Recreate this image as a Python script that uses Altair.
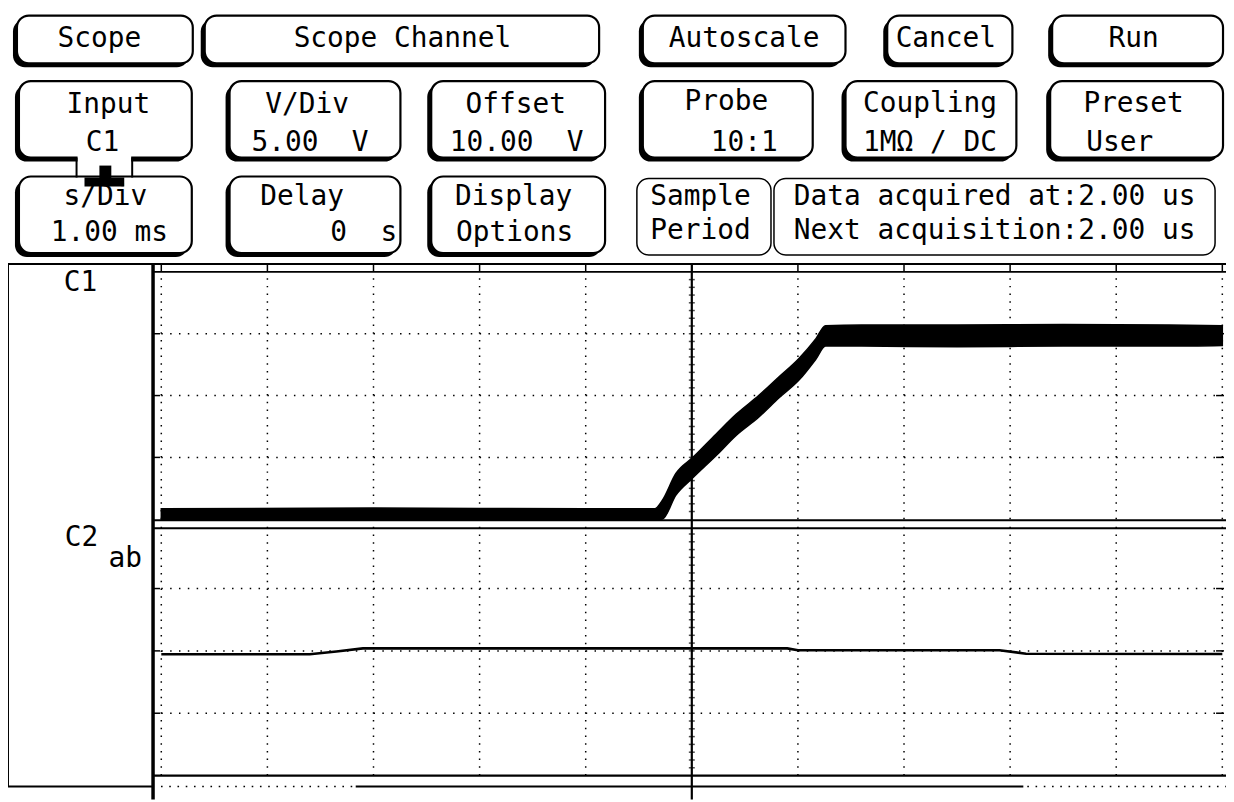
import altair as alt
import pandas as pd

FONT = "DejaVu Sans Mono"
FS = 28
NB = "\u00a0"

# ---------------- signal data ----------------
# C1: noisy band, envelope (time in ms, volts; 5 V/div, 0..20 V on screen)
c1_t  = [-5.0, -3.0, -1.0, -0.35, -0.28, -0.15, 0.01, 0.23, 0.42, 0.63, 0.82, 1.01, 1.17, 1.26, 1.6, 2.5, 3.5, 4.5, 5.0]
c1_hi = [0.85, 0.9, 0.85, 0.85, 1.5, 3.7, 5.0, 6.9, 8.5, 10.0, 11.5, 13.0, 14.6, 15.65, 15.7, 15.7, 15.75, 15.7, 15.65]
c1_lo = [0.0, 0.0, 0.0, 0.0, 0.0, 1.95, 3.35, 5.15, 6.8, 8.25, 9.8, 11.25, 12.95, 14.0, 14.0, 13.95, 14.0, 14.0, 14.05]

# C2: nearly flat trace (time in ms, divisions from centre)
c2_t = [-5.0, -3.6, -3.35, -3.1, 0.9, 1.0, 2.9, 3.15, 5.0]
c2_v = [-0.055, -0.055, -0.01, 0.04, 0.04, 0.01, 0.01, -0.045, -0.05]

time_ticks = [-5, -4, -3, -2, -1, 0, 1, 2, 3, 4, 5]
c1_levels = [5, 10, 15]
c2_levels = [-1, 0, 1]
c1_minor = [i * 0.625 for i in range(1, 32)]
c2_minor = [-2 + i * 0.125 for i in range(1, 32)]

# ---------------- soft-key labels ----------------
btn_l1 = ["Scope", "Scope Channel", "Autoscale", "Cancel", "Run",
          "Input", "V/Div", "Offset", "Probe", "Coupling", "Preset",
          "s/Div", "Delay", "Display", "Sample", "Data acquired at:2.00 us"]
btn_l2 = ["", "", "", "", "",
          "C1", "5.00" + NB * 2 + "V", "10.00" + NB * 2 + "V", "10:1", "1M\u03a9 / DC", "User",
          "1.00 ms", "0" + NB * 2 + "s", "Options", "Period", "Next acquisition:2.00 us"]

# layout of the soft keys (screen pixels)
btn_x0 = [17, 206, 647, 893, 1059, 19, 231, 434, 647, 851, 1057, 19, 231, 434, 641, 779]
btn_x1 = [194, 603, 851, 1019, 1231, 193, 403, 609, 818, 1023, 1231, 193, 403, 609, 776, 1223]
btn_y0 = [13] * 5 + [79] * 6 + [175] * 3 + [177, 177]
btn_y1 = [61] * 5 + [156] * 6 + [252] * 3 + [254, 254]
btn_shadow = [1] * 14 + [0, 0]
t1_x = [100, 405, 749, 952, 1141, 109, 309, 519, 731, 936, 1141, 106, 304, 517, 705, 799]
t1_y = [45] * 5 + [111, 111, 111, 108, 110, 110] + [204, 204, 204, 204, 204]
t2_x = [0] * 5 + [103, 312, 520, 749, 936, 1127, 110, 366, 518, 705, 799]
t2_y = [0] * 5 + [149] * 6 + [240, 240, 240, 238, 238]
t_align = ["center"] * 15 + ["left"]

# ---------------- scales ----------------
X_PX = alt.Scale(domain=[8, 1234], range=[0, 1226], nice=False, zero=False)
Y_PX = alt.Scale(domain=[8, 802], range=[0, 794], nice=False, zero=False)
X_T = alt.Scale(domain=[-5, 5], range=[154.3, 1222.3], nice=False, zero=False)
Y_C1 = alt.Scale(domain=[0, 20], range=[512, 263], nice=False, zero=False)
Y_C2 = alt.Scale(domain=[-2, 2], range=[770, 519], nice=False, zero=False)


def X(f, s):
    return alt.X(f"{f}:Q", scale=s, axis=None)


def Y(f, s):
    return alt.Y(f"{f}:Q", scale=s, axis=None)


layers = []

# ---------------- soft keys ----------------
btn = pd.DataFrame({"x0": btn_x0, "x1": btn_x1, "y0": btn_y0, "y1": btn_y1, "sh": btn_shadow})
layers.append(
    alt.Chart(btn[btn.sh == 1]).mark_rect(color="black", cornerRadius=12, xOffset=-4, x2Offset=-4,
                                         yOffset=4, y2Offset=4)
    .encode(x=X("x0", X_PX), x2="x1:Q", y=Y("y0", Y_PX), y2="y1:Q")
)
layers.append(
    alt.Chart(btn[btn.sh == 1]).mark_rect(fill="white", stroke="black", strokeWidth=2.2, cornerRadius=12)
    .encode(x=X("x0", X_PX), x2="x1:Q", y=Y("y0", Y_PX), y2="y1:Q")
)
layers.append(
    alt.Chart(btn[btn.sh == 0]).mark_rect(fill="white", stroke="black", strokeWidth=1.5, cornerRadius=12)
    .encode(x=X("x0", X_PX), x2="x1:Q", y=Y("y0", Y_PX), y2="y1:Q")
)
# opening between Input and s/Div
layers.append(
    alt.Chart(pd.DataFrame({"x0": [78], "x1": [132], "y0": [153], "y1": [166]}))
    .mark_rect(color="white")
    .encode(x=X("x0", X_PX), x2="x1:Q", y=Y("y0", Y_PX), y2="y1:Q")
)

# ---------------- frame lines (screen pixels) ----------------
frame = pd.DataFrame({
    "x0": [77, 133, 8, 155, 155, 155, 155, 8, 358, 8, 154],
    "x1": [77, 133, 1234, 1234, 1234, 1234, 1234, 155, 1030, 8, 154],
    "y0": [156, 156, 263, 271, 521, 529, 778, 789, 789, 263, 263],
    "y1": [176, 176, 263, 271, 521, 529, 778, 789, 789, 789, 802],
    "w": [2, 2, 2, 2, 2.2, 2, 2.2, 2, 2, 2, 3.5],
})
layers.append(
    alt.Chart(frame).mark_rule(color="black")
    .encode(x=X("x0", X_PX), x2="x1:Q", y=Y("y0", Y_PX), y2="y1:Q",
            strokeWidth=alt.StrokeWidth("w:Q", scale=None))
)
# dotted parts of the bottom bar
layers.append(
    alt.Chart(pd.DataFrame({"x0": [162, 1034], "x1": [355, 1234], "y0": [789, 789]}))
    .mark_rule(color="black", strokeWidth=1.6, strokeDash=[1.6, 6.7])
    .encode(x=X("x0", X_PX), x2="x1:Q", y=Y("y0", Y_PX))
)
# trigger marker
marker = pd.DataFrame({"x0": [100, 85], "x1": [112, 125], "y0": [164, 176], "y1": [178, 185]})
layers.append(
    alt.Chart(marker).mark_rect(color="black")
    .encode(x=X("x0", X_PX), x2="x1:Q", y=Y("y0", Y_PX), y2="y1:Q")
)

# ---------------- texts ----------------
texts = pd.DataFrame({
    "txt": btn_l1 + btn_l2 + ["C1", "C2", "ab"],
    "x": t1_x + t2_x + [81, 82, 126],
    "y": t1_y + t2_y + [290, 547, 568],
    "al": t_align + t_align + ["center"] * 3,
})
texts = texts[texts.txt != ""]
for al in ["center", "left"]:
    layers.append(
        alt.Chart(texts[texts.al == al])
        .mark_text(font=FONT, fontSize=FS, align=al, baseline="alphabetic", color="black")
        .encode(x=X("x", X_PX), y=Y("y", Y_PX), text="txt:N")
    )

# ---------------- graticule ----------------
vgrid = pd.DataFrame({"t": [t for t in time_ticks if t != 0]})
layers.append(
    alt.Chart(vgrid.assign(lo=0, hi=20)).mark_rule(color="black", strokeWidth=1.5, strokeDash=[1.5, 6.28])
    .encode(x=X("t", X_T), y=Y("lo", Y_C1), y2="hi:Q")
)
layers.append(
    alt.Chart(vgrid.assign(lo=-2, hi=2)).mark_rule(color="black", strokeWidth=1.5, strokeDash=[1.5, 6.28])
    .encode(x=X("t", X_T), y=Y("lo", Y_C2), y2="hi:Q")
)
hg1 = pd.DataFrame({"v": c1_levels, "t0": -5, "t1": 5})
hg2 = pd.DataFrame({"v": c2_levels, "t0": -5, "t1": 5})
layers.append(
    alt.Chart(hg1).mark_rule(color="black", strokeWidth=1.5, strokeDash=[1.5, 7.4])
    .encode(x=X("t0", X_T), x2="t1:Q", y=Y("v", Y_C1))
)
layers.append(
    alt.Chart(hg2).mark_rule(color="black", strokeWidth=1.5, strokeDash=[1.5, 7.4])
    .encode(x=X("t0", X_T), x2="t1:Q", y=Y("v", Y_C2))
)
# ticks on top border
layers.append(
    alt.Chart(pd.DataFrame({"t": time_ticks, "y0": 263, "y1": 271}))
    .mark_rule(color="black", strokeWidth=1.5)
    .encode(x=X("t", X_T), y=Y("y0", Y_PX), y2="y1:Q")
)
# side ticks at the horizontal graticule lines
for lv, ys in [(c1_levels, Y_C1), (c2_levels, Y_C2)]:
    side = pd.DataFrame({"v": lv * 2, "x0": [154] * 3 + [1224] * 3, "x1": [161] * 3 + [1232] * 3})
    layers.append(
        alt.Chart(side).mark_rule(color="black", strokeWidth=1.5)
        .encode(x=X("x0", X_PX), x2="x1:Q", y=Y("v", ys))
    )
# centre axis
layers.append(
    alt.Chart(pd.DataFrame({"t": [0], "y0": [263], "y1": [802]}))
    .mark_rule(color="black", strokeWidth=2.2)
    .encode(x=X("t", X_T), y=Y("y0", Y_PX), y2="y1:Q")
)
for mv, ys in [(c1_minor, Y_C1), (c2_minor, Y_C2)]:
    layers.append(
        alt.Chart(pd.DataFrame({"t": 0, "v": mv}))
        .mark_tick(orient="horizontal", size=6, thickness=1.5, color="black")
        .encode(x=X("t", X_T), y=Y("v", ys))
    )

# ---------------- traces ----------------
c1 = pd.DataFrame({"t": c1_t, "hi": c1_hi, "lo": c1_lo})
layers.append(
    alt.Chart(c1).mark_area(color="black", stroke="black", strokeWidth=1.5, opacity=1,
                            interpolate="monotone")
    .encode(x=X("t", X_T), y=Y("hi", Y_C1), y2="lo:Q")
)
c2 = pd.DataFrame({"t": c2_t, "v": c2_v})
layers.append(
    alt.Chart(c2).mark_line(color="black", strokeWidth=2.6)
    .encode(x=X("t", X_T), y=Y("v", Y_C2))
)

chart = (
    alt.layer(*layers)
    .resolve_scale(x="independent", y="independent")
    .properties(width=1226, height=794, autosize=alt.AutoSizeParams(type="none"), padding=0,
                background="white")
    .configure_view(stroke=None)
)

chart.save("out.html", embed_options={"renderer": "svg", "actions": False})
